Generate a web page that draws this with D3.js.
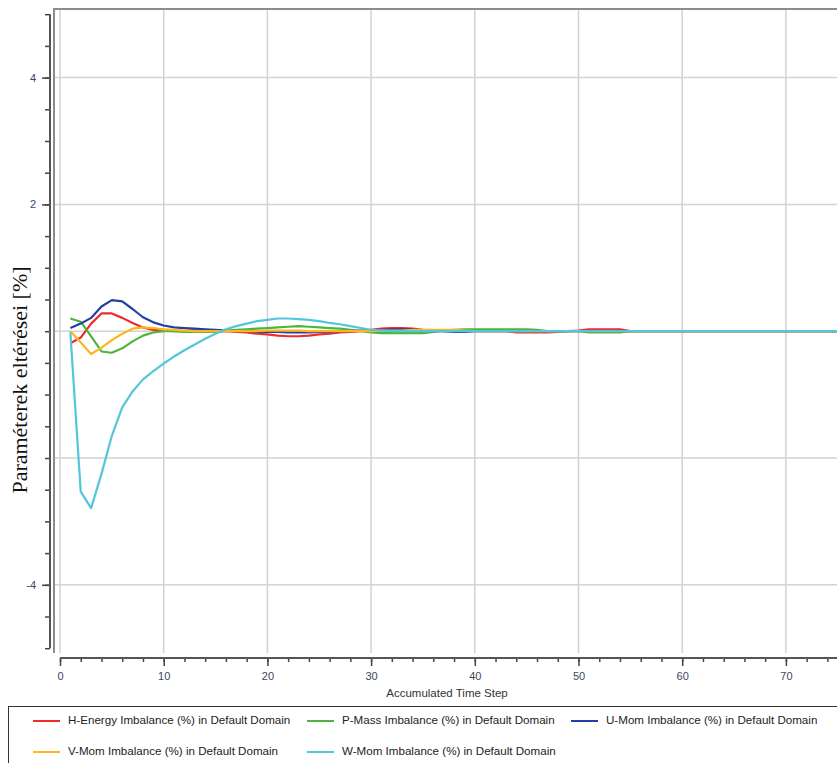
<!DOCTYPE html>
<html lang="hu">
<head>
  <meta charset="UTF-8">
  <title>Imbalance</title>
  <style>
body {
    margin: 0;
    background: #fff;
}

#wrapper {
    position: relative;
}

.grid line {
    stroke: #d2d2d2;
    stroke-width: 1.5px;
}

.tick text {
    font-family: "Liberation Sans", Arial, sans-serif;
    font-size: 11px;
    fill: #3c4660;
}

.legend-label {
    font-family: "Liberation Sans", Arial, sans-serif;
    font-size: 11.6px;
    fill: #222;
    dominant-baseline: middle;
}

.series {
    fill: none;
    stroke-width: 2.2px;
    stroke-linejoin: round;
}
  </style>
</head>
<body>
<div id="wrapper"></div>

<script src="https://cdnjs.cloudflare.com/ajax/libs/d3/7.8.5/d3.min.js"></script>
<script>
// DATA (one value per accumulated time step)
const timeSteps = [
   1,  2,  3,  4,  5,  6,  7,  8,  9, 10, 11, 12, 13, 14, 15, 16, 17, 18, 19, 20,
  21, 22, 23, 24, 25, 26, 27, 28, 29, 30, 31, 32, 33, 34, 35, 36, 37, 38, 39, 40,
  41, 42, 43, 44, 45, 46, 47, 48, 49, 50, 51, 52, 53, 54, 55, 56, 57, 58, 59, 60,
  61, 62, 63, 64, 65, 66, 67, 68, 69, 70, 71, 72, 73, 74, 75, 76, 77, 78, 79, 80
]

const hEnergy = [
  -0.19, -0.10, 0.12, 0.28, 0.28, 0.21, 0.13, 0.06, 0.02, 0.01,
   0.00, 0.00, 0.02, 0.02, 0.00, 0.00, -0.01, -0.02, -0.04, -0.05,
  -0.07, -0.08, -0.08, -0.07, -0.05, -0.04, -0.02, -0.01, 0.00, 0.02,
   0.04, 0.05, 0.05, 0.04, 0.02, 0.01, 0.00, 0.00, 0.00, 0.00,
   0.00, 0.00, 0.00, -0.02, -0.02, -0.02, -0.02, -0.01, 0.00, 0.01,
   0.03, 0.03, 0.03, 0.03, 0.00, 0, 0, 0, 0, 0,
   0, 0, 0, 0, 0, 0, 0, 0, 0, 0,
   0, 0, 0, 0, 0, 0, 0, 0, 0, 0
]

const pMass = [
   0.20, 0.15, -0.08, -0.32, -0.34, -0.27, -0.16, -0.07, -0.02, 0.00,
   0.00, -0.01, -0.01, -0.01, -0.01, 0.00, 0.02, 0.03, 0.04, 0.05,
   0.06, 0.07, 0.08, 0.07, 0.06, 0.05, 0.04, 0.02, 0.00, -0.02,
  -0.03, -0.03, -0.03, -0.03, -0.03, -0.01, 0.01, 0.02, 0.03, 0.03,
   0.03, 0.03, 0.03, 0.03, 0.03, 0.02, 0.00, 0.00, 0.00, 0.00,
  -0.02, -0.02, -0.02, -0.02, 0.00, 0, 0, 0, 0, 0,
   0, 0, 0, 0, 0, 0, 0, 0, 0, 0,
   0, 0, 0, 0, 0, 0, 0, 0, 0, 0
]

const uMom = [
   0.05, 0.12, 0.21, 0.39, 0.49, 0.47, 0.35, 0.22, 0.14, 0.09,
   0.06, 0.05, 0.04, 0.03, 0.02, 0.01, 0.00, 0.00, -0.01, -0.01,
  -0.01, -0.02, -0.02, -0.02, -0.01, -0.01, 0.00, 0.00, 0.01, 0.01,
   0.02, 0.03, 0.03, 0.03, 0.01, 0.00, 0.00, -0.01, -0.01, 0.00,
   0, 0, 0, 0, 0, 0, 0, 0, 0, 0,
   0, 0, 0, 0, 0, 0, 0, 0, 0, 0,
   0, 0, 0, 0, 0, 0, 0, 0, 0, 0,
   0, 0, 0, 0, 0, 0, 0, 0, 0, 0
]

const vMom = [
   0.00, -0.18, -0.36, -0.26, -0.14, -0.04, 0.04, 0.06, 0.05, 0.03,
   0.02, 0.01, 0.00, 0.00, 0.00, 0.00, 0.00, 0.00, 0.00, 0.01,
   0.01, 0.01, 0.01, 0.00, 0.00, 0.00, 0.00, 0.00, 0.00, 0.00,
   0.01, 0.01, 0.01, 0.02, 0.02, 0.02, 0.02, 0.02, 0.01, 0.00,
   0, 0, 0, 0, 0, 0, 0, 0, 0, 0,
   0, 0, 0, 0, 0, 0, 0, 0, 0, 0,
   0, 0, 0, 0, 0, 0, 0, 0, 0, 0,
   0, 0, 0, 0, 0, 0, 0, 0, 0, 0
]

const wMom = [
  -0.02, -2.53, -2.79, -2.25, -1.65, -1.20, -0.95, -0.76, -0.63, -0.51,
  -0.40, -0.30, -0.21, -0.12, -0.04, 0.03, 0.08, 0.12, 0.16, 0.18,
   0.20, 0.20, 0.19, 0.18, 0.16, 0.13, 0.11, 0.08, 0.05, 0.02,
   0.01, 0.00, 0, 0, 0, 0, 0, 0, 0, 0,
   0, 0, 0, 0, 0, 0, 0, 0, 0, 0,
   0, 0, 0, 0, 0, 0, 0, 0, 0, 0,
   0, 0, 0, 0, 0, 0, 0, 0, 0, 0,
   0, 0, 0, 0, 0, 0, 0, 0, 0, 0
]

const seriesNames = [
  "H-Energy Imbalance (%) in Default Domain",
  "P-Mass Imbalance (%) in Default Domain",
  "U-Mom Imbalance (%) in Default Domain",
  "V-Mom Imbalance (%) in Default Domain",
  "W-Mom Imbalance (%) in Default Domain"
]
const seriesValues = [hEnergy, pMass, uMom, vMom, wMom]
const seriesColors = ["#ee2b2f", "#4db53c", "#2540a4", "#ffb61e", "#54c6da"]

const xTickLabels = [0, 10, 20, 30, 40, 50, 60, 70]
const yTickLabels = [-4, 2, 4]   // 0 and -2 are hidden under the axis title

const yTitle = "Paraméterek eltérései [%]"
const xTitle = "Accumulated Time Step"

// DIMENSIONS
const width = 837
const height = 763
const plot = { left: 54, top: 9, bottom: 653, right: 837 }

const xScale = d3.scaleLinear()
  .domain([0, 80])
  .range([60, 60 + 829.6])

const yScale = d3.scaleLinear()
  .domain([-5, 5])
  .range([648.2, 14.2])

const svg = d3.select("#wrapper")
  .append("svg")
  .attr("width", width)
  .attr("height", height)

svg.append("defs").append("clipPath")
    .attr("id", "plotClip")
  .append("rect")
    .attr("x", plot.left)
    .attr("y", plot.top)
    .attr("width", plot.right - plot.left)
    .attr("height", plot.bottom - plot.top)

// gridlines
const grid = svg.append("g").attr("class", "grid")
grid.selectAll(".vg")
  .data(xTickLabels)
  .join("line")
    .attr("class", "vg")
    .attr("x1", d => xScale(d))
    .attr("x2", d => xScale(d))
    .attr("y1", plot.top)
    .attr("y2", plot.bottom)
grid.selectAll(".hg")
  .data([-4, -2, 0, 2, 4])
  .join("line")
    .attr("class", "hg")
    .attr("x1", plot.left)
    .attr("x2", plot.right)
    .attr("y1", d => yScale(d))
    .attr("y2", d => yScale(d))

// plot frame (top + left)
svg.append("path")
  .attr("d", `M${plot.left},${plot.bottom}V${plot.top}H${plot.right}`)
  .attr("fill", "none")
  .attr("stroke", "#8c8c8c")
  .attr("stroke-width", 2)

// series
const lineGen = d3.line()
  .x((d, i) => xScale(timeSteps[i]))
  .y(d => yScale(d))

svg.append("g")
    .attr("clip-path", "url(#plotClip)")
  .selectAll("path")
  .data(seriesValues)
  .join("path")
    .attr("class", "series")
    .attr("stroke", (d, i) => seriesColors[i])
    .attr("d", lineGen)

// Y AXIS
const yMinor = d3.axisLeft(yScale)
  .tickValues(d3.range(-5, 5.01, 0.5))
  .tickSize(5)
  .tickFormat("")
const yMajor = d3.axisLeft(yScale)
  .tickValues(yTickLabels)
  .tickSize(8)
  .tickPadding(6)
  .tickFormat(d => d)

const yAxisG = svg.append("g").attr("transform", "translate(50,0)")
yAxisG.call(yMinor)
yAxisG.append("g").call(yMajor)
yAxisG.selectAll(".domain").remove()
yAxisG.selectAll("line").attr("stroke", "#444").attr("stroke-width", 1.5)
yAxisG.append("line")
  .attr("y1", yScale(5))
  .attr("y2", yScale(-5))
  .attr("stroke", "#555")
  .attr("stroke-width", 2)

// X AXIS
const xMinor = d3.axisBottom(xScale)
  .tickValues(d3.range(0, 81, 2))
  .tickSize(4)
  .tickFormat("")
const xMajor = d3.axisBottom(xScale)
  .tickValues(xTickLabels)
  .tickSize(8)
  .tickPadding(6)
  .tickFormat(d => d)

const xAxisG = svg.append("g").attr("transform", "translate(0,658)")
xAxisG.call(xMinor)
xAxisG.append("g").call(xMajor)
xAxisG.selectAll(".domain").remove()
xAxisG.selectAll("line").attr("stroke", "#444").attr("stroke-width", 1.5)
xAxisG.append("line")
  .attr("x1", xScale(0))
  .attr("x2", plot.right)
  .attr("stroke", "#555")
  .attr("stroke-width", 2)

svg.append("text")
  .attr("x", 447)
  .attr("y", 697)
  .attr("text-anchor", "middle")
  .style("font-family", "'Liberation Sans', Arial, sans-serif")
  .style("font-size", "11.5px")
  .style("fill", "#333")
  .text(xTitle)

svg.append("text")
  .attr("transform", "translate(27,380) rotate(-90)")
  .attr("text-anchor", "middle")
  .style("font-family", "'Liberation Serif', 'Times New Roman', serif")
  .style("font-size", "22px")
  .style("fill", "#111")
  .text(yTitle)

// LEGEND
const legend = svg.append("g")
legend.append("rect")
  .attr("x", 8.5)
  .attr("y", 706.5)
  .attr("width", 900)
  .attr("height", 100)
  .attr("fill", "#fff")
  .attr("stroke", "#333")
  .attr("stroke-width", 1)

const legendCols = [33, 307, 571]
const legendRows = [721, 752]
const items = legend.selectAll(".item")
  .data(seriesNames)
  .join("g")
    .attr("class", "item")
    .attr("transform", (d, i) => `translate(${legendCols[i % 3]},${legendRows[Math.floor(i / 3)]})`)

items.append("line")
  .attr("x1", 0)
  .attr("x2", 27)
  .attr("stroke", (d, i) => seriesColors[i])
  .attr("stroke-width", 2)

items.append("text")
  .attr("class", "legend-label")
  .attr("x", 35)
  .text(d => d)
</script>
</body>
</html>
